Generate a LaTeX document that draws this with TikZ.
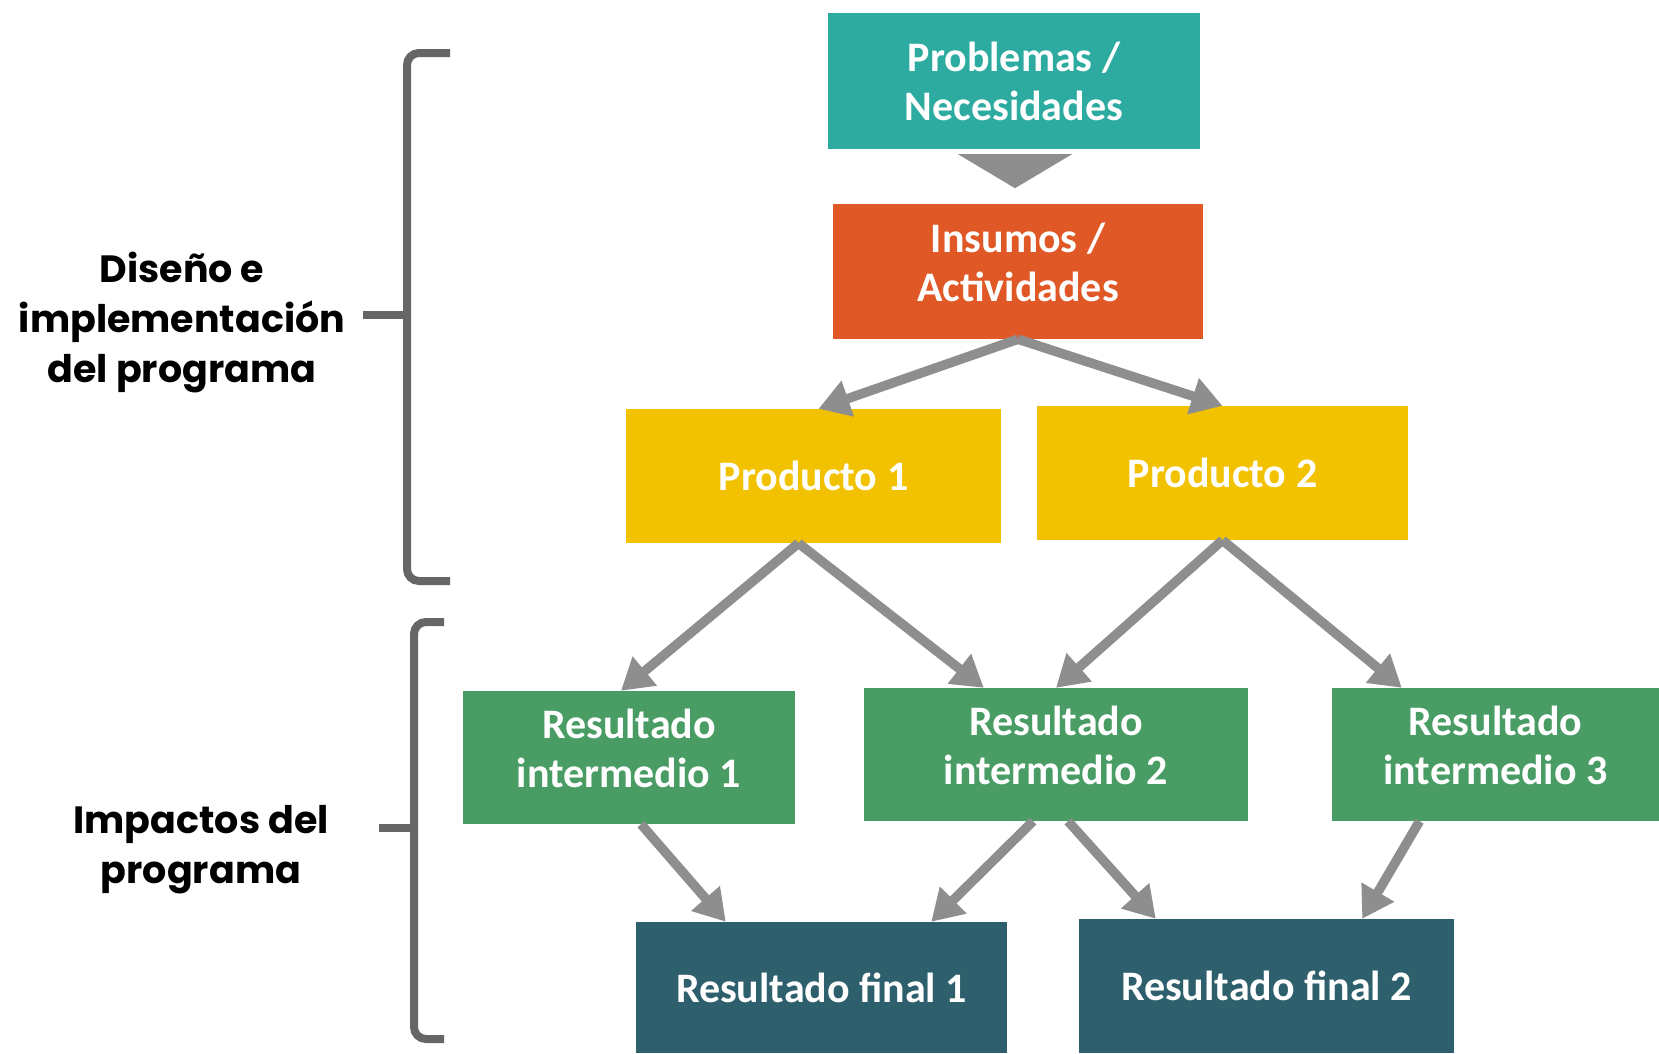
\documentclass[tikz,border=0pt]{standalone}
\usepackage{fontspec}
\usepackage{tikz}
\usetikzlibrary{arrows.meta}
\newfontfamily\gothic{Poppins}
\newfontfamily\narrow{Carlito}
\definecolor{probcol}{RGB}{46,171,160}
\definecolor{inscol}{RGB}{224,88,38}
\definecolor{prodcol}{RGB}{242,194,0}
\definecolor{intcol}{RGB}{73,156,100}
\definecolor{fincol}{RGB}{46,95,108}
\definecolor{arrcol}{RGB}{142,142,142}
\definecolor{bracol}{RGB}{102,102,102}

\begin{document}
\begin{tikzpicture}[x=1pt,y=-1pt,
    box/.style={rectangle,inner sep=0pt,align=center,text=white,
        font=\narrow\bfseries\fontsize{42}{49}\selectfont},
    lbl/.style={align=center,font=\gothic\bfseries\fontsize{38}{50}\selectfont},
    flow/.style={draw=arrcol,line width=9.5pt,-{Triangle[width=36pt,length=31pt]}},
    brace/.style={draw=bracol,line width=8pt,rounded corners=12pt}]
    \useasboundingbox (0,0) rectangle (1659,1053);
    \node[box,fill=probcol,minimum width=372pt,minimum height=136pt] (prob) at (1014,81) {Problemas /\\Necesidades};
    \node[box,fill=inscol,minimum width=370pt,minimum height=135pt] (ins) at (1018,271.5) {Insumos /\\Actividades\\[-30pt]\mbox{}};
    \node[box,fill=prodcol,minimum width=375pt,minimum height=134pt] (p1) at (813.5,476) {Producto 1};
    \node[box,fill=prodcol,minimum width=371pt,minimum height=134pt] (p2) at (1222.5,473) {Producto 2};
    \node[box,fill=intcol,minimum width=332pt,minimum height=133pt] (ri1) at (629,757.5) {Resultado\\intermedio 1\\[-30pt]\mbox{}};
    \node[box,fill=intcol,minimum width=384pt,minimum height=133pt] (ri2) at (1056,754.5) {Resultado\\intermedio 2\\[-30pt]\mbox{}};
    \node[box,fill=intcol,minimum width=327pt,minimum height=133pt] (ri3) at (1495.5,754.5) {Resultado\\intermedio 3\\[-30pt]\mbox{}};
    \node[box,fill=fincol,minimum width=371pt,minimum height=131pt] (rf1) at (821.5,987.5) {Resultado final 1};
    \node[box,fill=fincol,minimum width=375pt,minimum height=134pt] (rf2) at (1266.5,986) {Resultado final 2};
    \fill[arrcol] ([shift={(-56,5)}]prob.south) -- ([shift={(58,5)}]prob.south) -- ([shift={(1,39)}]prob.south) -- cycle;
    \draw[flow] (ins.south) -- ([xshift=5]p1.north);
    \draw[flow] (ins.south) -- (p2.north);
    \draw[flow] ([xshift=-15]p1.south) -- ([xshift=-8]ri1.north);
    \draw[flow] ([xshift=-15]p1.south) -- ([xshift=120]ri2.north west);
    \draw[flow] (p2.south) -- (ri2.north);
    \draw[flow] (p2.south) -- ([xshift=70]ri3.north west);
    \draw[flow] ([xshift=12]ri1.south) -- ([xshift=90]rf1.north west);
    \draw[flow] ([xshift=-23]ri2.south) -- ([xshift=-76]rf1.north east);
    \draw[flow] ([xshift=12]ri2.south) -- ([xshift=77]rf2.north west);
    \draw[flow] ([xshift=-76]ri3.south) -- ([xshift=-92]rf2.north east);
    \draw[brace] (450,53) -- (407,53) -- (407,581) -- (450,581);
    \draw[brace,rounded corners=0pt] (363,315) -- (407,315);
    \draw[brace] (444,622) -- (414,622) -- (414,1039) -- (444,1039);
    \draw[brace,rounded corners=0pt] (379,828) -- (414,828);
    \node[lbl] (dis) at (182,322) {Diseño e\\implementación\\del programa};
    \node[lbl] (imp) at (201,850) {Impactos del\\programa};
\end{tikzpicture}
\end{document}
